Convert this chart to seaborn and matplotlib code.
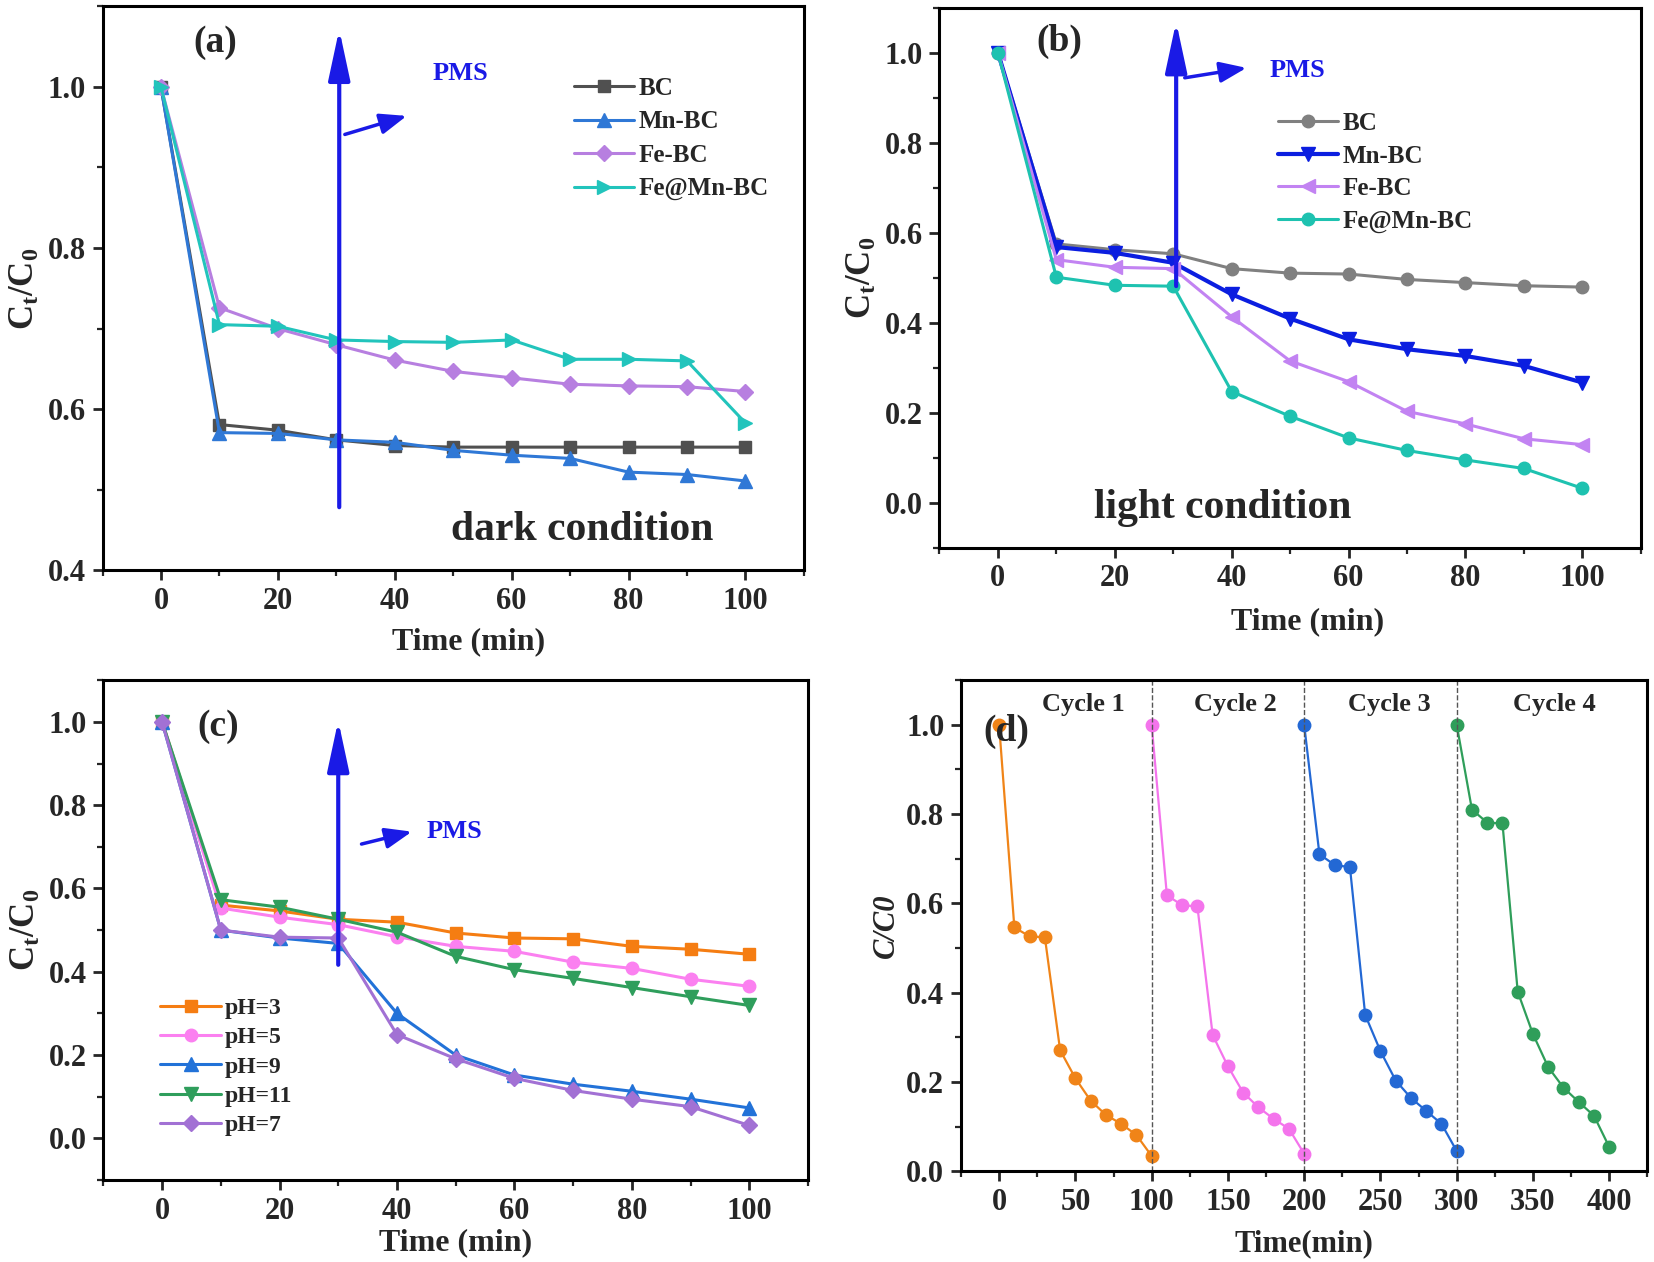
import matplotlib
matplotlib.use('Agg')
import matplotlib.pyplot as plt
from matplotlib.ticker import MultipleLocator, FormatStrFormatter
import seaborn as sns

time = [0, 10, 20, 30, 40, 50, 60, 70, 80, 90, 100]

# (a) dark condition
dark_bc = [1.0, 0.581, 0.574, 0.562, 0.555, 0.553, 0.553, 0.553, 0.553, 0.553, 0.553]
dark_mn = [1.0, 0.571, 0.570, 0.562, 0.559, 0.549, 0.543, 0.539, 0.522, 0.519, 0.511]
dark_fe = [1.0, 0.726, 0.700, 0.680, 0.661, 0.647, 0.639, 0.631, 0.629, 0.628, 0.622]
dark_femn = [1.0, 0.705, 0.703, 0.686, 0.684, 0.683, 0.686, 0.662, 0.662, 0.660, 0.583]

# (b) light condition
light_bc = [1.0, 0.575, 0.562, 0.553, 0.520, 0.510, 0.508, 0.496, 0.489, 0.482, 0.479]
light_mn = [1.0, 0.568, 0.555, 0.533, 0.463, 0.409, 0.363, 0.341, 0.326, 0.304, 0.267]
light_fe = [1.0, 0.540, 0.523, 0.520, 0.413, 0.315, 0.269, 0.203, 0.175, 0.142, 0.129]
light_femn = [1.0, 0.501, 0.483, 0.481, 0.247, 0.192, 0.144, 0.116, 0.095, 0.076, 0.032]

# (c) pH effect
ph3 = [1.0, 0.560, 0.546, 0.526, 0.519, 0.493, 0.481, 0.479, 0.461, 0.454, 0.442]
ph5 = [1.0, 0.553, 0.531, 0.513, 0.484, 0.461, 0.449, 0.423, 0.408, 0.382, 0.365]
ph9 = [1.0, 0.500, 0.481, 0.468, 0.300, 0.200, 0.152, 0.130, 0.113, 0.094, 0.073]
ph11 = [1.0, 0.573, 0.555, 0.526, 0.495, 0.437, 0.405, 0.384, 0.362, 0.340, 0.319]
ph7 = [1.0, 0.500, 0.483, 0.481, 0.249, 0.191, 0.144, 0.115, 0.094, 0.076, 0.031]

# (d) recycling
cycle1 = [1.0, 0.546, 0.526, 0.524, 0.271, 0.208, 0.158, 0.126, 0.106, 0.081, 0.034]
cycle2 = [1.0, 0.618, 0.596, 0.593, 0.305, 0.235, 0.176, 0.143, 0.117, 0.095, 0.039]
cycle3 = [1.0, 0.710, 0.686, 0.681, 0.350, 0.269, 0.203, 0.164, 0.135, 0.106, 0.045]
cycle4 = [1.0, 0.810, 0.781, 0.779, 0.402, 0.307, 0.233, 0.187, 0.155, 0.124, 0.054]
cycle_labels = ['Cycle 1', 'Cycle 2', 'Cycle 3', 'Cycle 4']

sns.set_theme(style='ticks')
plt.rcParams['font.family'] = ['Liberation Serif', 'DejaVu Serif']
plt.rcParams['font.weight'] = 'bold'
plt.rcParams['axes.labelweight'] = 'bold'
plt.rcParams['mathtext.fontset'] = 'custom'
plt.rcParams['mathtext.rm'] = 'Liberation Serif:bold'
plt.rcParams['mathtext.it'] = 'Liberation Serif:italic:bold'
plt.rcParams['mathtext.bf'] = 'Liberation Serif:bold'

TICK_FS = 22
LABEL_FS = 23
PMS_BLUE = '#1a1ae6'


def style_axes(ax, xlim, ylim, xmaj, xmin, ymaj, ymin):
    ax.set_xlim(*xlim)
    ax.set_ylim(*ylim)
    ax.xaxis.set_major_locator(MultipleLocator(xmaj))
    ax.xaxis.set_minor_locator(MultipleLocator(xmin))
    ax.yaxis.set_major_locator(MultipleLocator(ymaj))
    ax.yaxis.set_minor_locator(MultipleLocator(ymin))
    ax.yaxis.set_major_formatter(FormatStrFormatter('%.1f'))
    for sp in ax.spines.values():
        sp.set_linewidth(2.2)
        sp.set_color('black')
        sp.set_visible(True)
    ax.tick_params(which='major', direction='out', length=7, width=2,
                   labelsize=TICK_FS, pad=5)
    ax.tick_params(which='minor', direction='out', length=4, width=1.6)
    ax.tick_params(top=False, right=False, which='both')


def draw(ax, x, y, color, marker, label=None, ms=9, lw=2.2):
    sns.lineplot(x=x, y=y, ax=ax, color=color, marker=marker, markersize=ms,
                 markeredgecolor=color, markeredgewidth=1, linewidth=lw,
                 label=label, legend=False)


def pms_arrows(ax, x0, y0, y1, sx0, sy0, sx1, sy1, tx, ty):
    ax.annotate('', xy=(x0, y1), xytext=(x0, y0),
                arrowprops=dict(arrowstyle='-|>,head_length=1.4,head_width=0.3',
                                color=PMS_BLUE, lw=3, mutation_scale=22))
    ax.annotate('', xy=(sx1, sy1), xytext=(sx0, sy0),
                arrowprops=dict(arrowstyle='-|>,head_length=0.9,head_width=0.35',
                                color=PMS_BLUE, lw=2.5, mutation_scale=18))
    ax.text(tx, ty, 'PMS', color=PMS_BLUE, fontsize=19, fontweight='bold',
            ha='left', va='center')


fig = plt.figure(figsize=(16.54, 12.62), dpi=100)
ax_a = fig.add_axes([0.062, 0.548, 0.424, 0.447])
ax_b = fig.add_axes([0.568, 0.566, 0.424, 0.428])
ax_c = fig.add_axes([0.0625, 0.065, 0.426, 0.396])
ax_d = fig.add_axes([0.581, 0.072, 0.415, 0.389])

ylab = r'$\mathrm{C_t/C_0}$'

# (a)
draw(ax_a, time, dark_bc, '#505050', 's', 'BC')
draw(ax_a, time, dark_mn, '#2f78d6', '^', 'Mn-BC', ms=10)
draw(ax_a, time, dark_fe, '#b77fe0', 'D', 'Fe-BC', ms=8)
draw(ax_a, time, dark_femn, '#22c4bc', '>', 'Fe@Mn-BC', ms=10)
style_axes(ax_a, (-10, 110), (0.4, 1.1), 20, 10, 0.2, 0.1)
ax_a.set_xlabel('Time (min)', fontsize=LABEL_FS, fontweight='bold')
ax_a.xaxis.set_label_coords(0.522, -0.1)
ax_a.set_ylabel(ylab, fontsize=LABEL_FS + 2)
ax_a.legend(loc='upper left', bbox_to_anchor=(0.64, 0.915), frameon=False,
            fontsize=18, handlelength=2.4, handletextpad=0.2, labelspacing=0.42)
ax_a.text(5.5, 1.055, '(a)', fontsize=27, fontweight='bold', va='center')
ax_a.text(72, 0.45, 'dark condition', fontsize=30, fontweight='bold',
          ha='center', va='center')
pms_arrows(ax_a, 30.5, 0.475, 1.075, 31, 0.94, 42.5, 0.965, 46.5, 1.017)

# (b)
draw(ax_b, time, light_bc, '#808080', 'o', 'BC')
draw(ax_b, time, light_mn, '#0b1ee0', 'v', 'Mn-BC', ms=10, lw=3)
draw(ax_b, time, light_fe, '#c283f2', '<', 'Fe-BC', ms=10)
draw(ax_b, time, light_femn, '#1ec2b0', 'o', 'Fe@Mn-BC')
style_axes(ax_b, (-10, 110), (-0.1, 1.1), 20, 10, 0.2, 0.1)
ax_b.set_xlabel('Time (min)', fontsize=LABEL_FS, fontweight='bold')
ax_b.xaxis.set_label_coords(0.525, -0.11)
ax_b.set_ylabel(ylab, fontsize=LABEL_FS + 2)
ax_b.legend(loc='upper left', bbox_to_anchor=(0.45, 0.848), frameon=False,
            fontsize=18, handlelength=2.4, handletextpad=0.2, labelspacing=0.38)
ax_b.text(6.5, 1.025, '(b)', fontsize=27, fontweight='bold', va='center')
ax_b.text(38.5, -0.012, 'light condition', fontsize=30, fontweight='bold',
          ha='center', va='center')
pms_arrows(ax_b, 30.5, 0.475, 1.075, 31.5, 0.943, 43, 0.967, 46.5, 0.96)

# (c)
draw(ax_c, time, ph3, '#f57d12', 's', 'pH=3')
draw(ax_c, time, ph5, '#fb80f0', 'o', 'pH=5')
draw(ax_c, time, ph9, '#2272d8', '^', 'pH=9', ms=10)
draw(ax_c, time, ph11, '#2f9e5c', 'v', 'pH=11', ms=10)
draw(ax_c, time, ph7, '#a271d4', 'D', 'pH=7', ms=8)
style_axes(ax_c, (-10, 110), (-0.1, 1.1), 20, 10, 0.2, 0.1)
ax_c.set_xlabel('Time (min)', fontsize=LABEL_FS, fontweight='bold', labelpad=2)
ax_c.set_ylabel(ylab, fontsize=LABEL_FS + 2)
ax_c.legend(loc='lower left', bbox_to_anchor=(0.05, 0.045), frameon=False,
            fontsize=17, handlelength=2.6, handletextpad=0.15, labelspacing=0.33)
ax_c.text(6, 0.99, '(c)', fontsize=27, fontweight='bold', va='center')
pms_arrows(ax_c, 30, 0.41, 1.01, 33.5, 0.705, 43, 0.738, 45, 0.737)

# (d)
cycle_colors = ['#f08418', '#f474ec', '#2368d4', '#2f9e5a']
for k, (vals, col) in enumerate(zip([cycle1, cycle2, cycle3, cycle4], cycle_colors)):
    xs = [t + 100 * k for t in time]
    draw(ax_d, xs, vals, col, 'o', ms=9, lw=1.6)
for xv in [100, 200, 300]:
    ax_d.axvline(xv, color='#555555', ls='--', lw=1)
style_axes(ax_d, (-25, 425), (0, 1.1), 50, 25, 0.2, 0.1)
ax_d.set_xlabel('Time(min)', fontsize=LABEL_FS - 1, fontweight='bold', labelpad=9)
ax_d.set_ylabel('C/C0', fontsize=LABEL_FS - 1, fontweight='bold', fontstyle='italic')
ax_d.text(-10, 0.985, '(d)', fontsize=27, fontweight='bold', va='center')
for k, lab in enumerate(cycle_labels):
    ax_d.text([55, 155, 256, 364][k], 1.045, lab, fontsize=19, fontweight='bold',
              ha='center', va='center')

fig.savefig('out.png', dpi=100)
